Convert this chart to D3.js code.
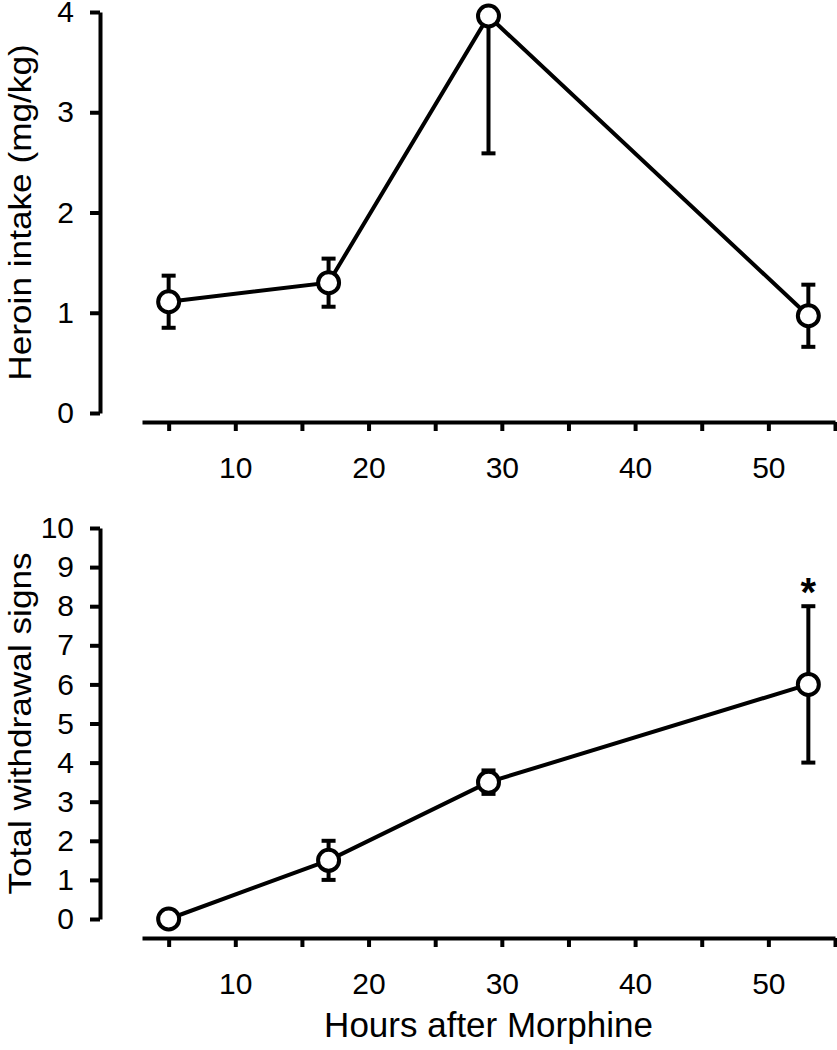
<!DOCTYPE html>
<html>
<head>
<meta charset="utf-8">
<script src="https://cdn.jsdelivr.net/npm/d3@7"></script>
<style>
  html, body { margin: 0; padding: 0; background: #fff; }
  svg { display: block; }
</style>
</head>
<body>
<main></main>
<script>
// Hours after morphine at which each group was sampled
const hours = [5, 17, 29, 53];

// Top panel: heroin intake (mg/kg), mean and SEM
const heroinMean = [1.11, 1.3, 3.96, 0.97];
const heroinSem = [0.26, 0.24, 1.37, 0.31];

// Bottom panel: total withdrawal signs, mean and SEM
const signsMean = [0, 1.5, 3.5, 6];
const signsSem = [0, 0.5, 0.3, 2];
const signsStars = [53];

const xTicks = [5, 10, 15, 20, 25, 30, 35, 40, 45, 50, 55];
const xTickLabels = [10, 20, 30, 40, 50];
const yTicksTop = [0, 1, 2, 3, 4];
const yTicksBottom = [0, 1, 2, 3, 4, 5, 6, 7, 8, 9, 10];

const width = 837;
const height = 1050;
const font = "'Liberation Sans', Arial, sans-serif";
const stroke = 4;

const svg = d3
  .create("svg")
  .attr("width", width)
  .attr("height", height)
  .style("background", "#fff");

const x = d3.scaleLinear().domain([3, 55]).range([142, 835]);

function drawPanel(opts) {
  const { y, axisY, means, sems, ticks, title, stars } = opts;
  const g = svg.append("g");
  const yMax = y.domain()[1];

  // y axis
  const yAxis = g
    .append("g")
    .attr("transform", "translate(100,0)")
    .call(
      d3
        .axisLeft(y)
        .tickValues(ticks)
        .tickFormat(d3.format("d"))
        .tickSize(10)
        .tickSizeOuter(0)
        .tickPadding(16)
    );

  // x axis, ticks every 5 h, labels every 10 h
  const xAxis = g
    .append("g")
    .attr("transform", `translate(0,${axisY})`)
    .call(
      d3
        .axisBottom(x)
        .tickValues(xTicks)
        .tickSize(9)
        .tickSizeOuter(0)
        .tickPadding(26)
        .tickFormat((d) => (xTickLabels.includes(d) ? d : ""))
    );

  for (const ax of [yAxis, xAxis]) {
    ax.select(".domain").attr("stroke", "#000").attr("stroke-width", stroke);
    ax.selectAll(".tick line").attr("stroke", "#000").attr("stroke-width", stroke);
    ax.selectAll(".tick text")
      .attr("fill", "#000")
      .attr("font-family", font)
      .attr("font-size", 30);
  }

  // y axis title, a little stretched along its length like the original
  g.append("text")
    .attr(
      "transform",
      `translate(31,${(y.range()[0] + y.range()[1]) / 2}) rotate(-90) scale(1.1,1)`
    )
    .attr("text-anchor", "middle")
    .attr("font-family", font)
    .attr("font-size", 32)
    .attr("fill", "#000")
    .text(title);

  const pts = hours.map((h, i) => ({ h, m: means[i], s: sems[i] }));

  // error bars (upper end clipped at the top of the axis)
  const bars = g.append("g").attr("stroke", "#000").attr("stroke-width", stroke);
  pts.forEach((d) => {
    if (d.s <= 0) return;
    const lo = d.m - d.s;
    const hi = Math.min(d.m + d.s, yMax);
    bars.append("line")
      .attr("x1", x(d.h)).attr("x2", x(d.h))
      .attr("y1", y(lo)).attr("y2", y(hi));
    bars.append("line")
      .attr("x1", x(d.h) - 7).attr("x2", x(d.h) + 7)
      .attr("y1", y(lo)).attr("y2", y(lo));
    if (d.m + d.s <= yMax) {
      bars.append("line")
        .attr("x1", x(d.h) - 7).attr("x2", x(d.h) + 7)
        .attr("y1", y(hi)).attr("y2", y(hi));
    }
  });

  // connecting line
  g.append("path")
    .datum(pts)
    .attr("fill", "none")
    .attr("stroke", "#000")
    .attr("stroke-width", stroke)
    .attr("d", d3.line().x((d) => x(d.h)).y((d) => y(d.m)));

  // open circles
  g.append("g")
    .selectAll("circle")
    .data(pts)
    .join("circle")
    .attr("cx", (d) => x(d.h))
    .attr("cy", (d) => y(d.m))
    .attr("r", 10.5)
    .attr("fill", "#fff")
    .attr("stroke", "#000")
    .attr("stroke-width", stroke);

  // significance markers
  g.append("g")
    .selectAll("text")
    .data(pts.filter((d) => stars.includes(d.h)))
    .join("text")
    .attr("x", (d) => x(d.h))
    .attr("y", (d) => y(d.m + d.s))
    .attr("text-anchor", "middle")
    .attr("font-family", font)
    .attr("font-weight", "bold")
    .attr("font-size", 40)
    .attr("fill", "#000")
    .text("*");
}

drawPanel({
  y: d3.scaleLinear().domain([0, 4]).range([413, 12]),
  axisY: 422,
  means: heroinMean,
  sems: heroinSem,
  ticks: yTicksTop,
  title: "Heroin intake (mg/kg)",
  stars: []
});

drawPanel({
  y: d3.scaleLinear().domain([0, 10]).range([919, 528]),
  axisY: 938,
  means: signsMean,
  sems: signsSem,
  ticks: yTicksBottom,
  title: "Total withdrawal signs",
  stars: signsStars
});

// x axis title
svg
  .append("text")
  .attr("x", (x.range()[0] + x.range()[1]) / 2)
  .attr("y", 1037)
  .attr("text-anchor", "middle")
  .attr("font-family", font)
  .attr("font-size", 35)
  .attr("fill", "#000")
  .text("Hours after Morphine");

document.querySelector("main").append(svg.node());
</script>
</body>
</html>
